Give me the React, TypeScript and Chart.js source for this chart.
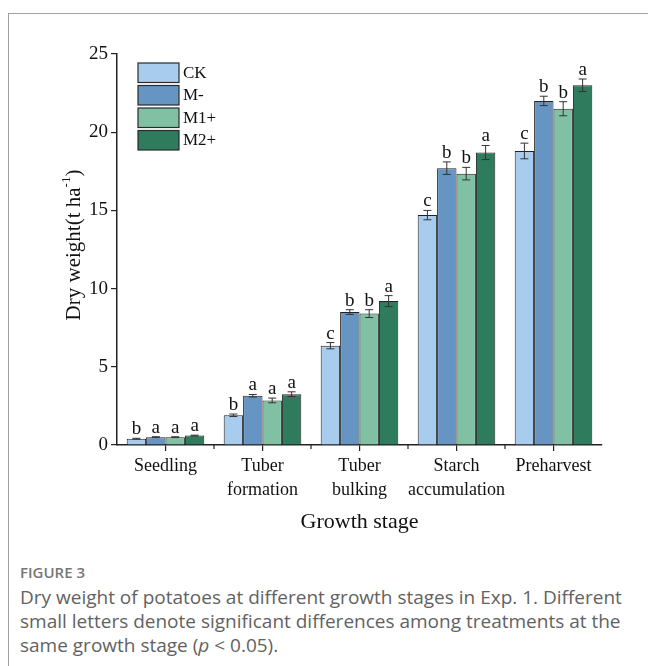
import React, { useEffect, useRef } from "react";
import { Chart, registerables } from "chart.js";

Chart.register(...registerables);

const categories: string[][] = [
  ["Seedling"],
  ["Tuber", "formation"],
  ["Tuber", "bulking"],
  ["Starch", "accumulation"],
  ["Preharvest"],
];
const seriesNames = ["CK", "M-", "M1+", "M2+"];
const ckValues = [0.4, 1.9, 6.35, 14.7, 18.8];
const mMinusValues = [0.5, 3.15, 8.5, 17.7, 22.0];
const m1Values = [0.5, 2.85, 8.4, 17.35, 21.5];
const m2Values = [0.6, 3.25, 9.2, 18.7, 23.0];
const ckErr = [0.03, 0.08, 0.2, 0.3, 0.5];
const mMinusErr = [0.03, 0.08, 0.15, 0.4, 0.3];
const m1Err = [0.03, 0.15, 0.25, 0.4, 0.45];
const m2Err = [0.03, 0.15, 0.35, 0.45, 0.4];
const ckLetters = ["b", "b", "c", "c", "c"];
const mMinusLetters = ["a", "a", "b", "b", "b"];
const m1Letters = ["a", "a", "b", "b", "b"];
const m2Letters = ["a", "a", "a", "a", "a"];
const yTicks = [0, 5, 10, 15, 20, 25];
const colors = ["#a8cced", "#6795c3", "#80c1a4", "#2f7b5d"];

const SERIF = "'Liberation Serif', 'Times New Roman', serif";

export default function App() {
  const ref = useRef<HTMLCanvasElement | null>(null);

  useEffect(() => {
    if (!ref.current) return;
    const values = [ckValues, mMinusValues, m1Values, m2Values];
    const errs = [ckErr, mMinusErr, m1Err, m2Err];
    const letters = [ckLetters, mMinusLetters, m1Letters, m2Letters];

    const extras = {
      id: "extras",
      afterDatasetsDraw(chart: any) {
        const ctx = chart.ctx;
        const y = chart.scales.y;
        const x = chart.scales.x;
        ctx.save();
        // error bars and letters
        chart.data.datasets.forEach((ds: any, di: number) => {
          const meta = chart.getDatasetMeta(di);
          meta.data.forEach((bar: any, i: number) => {
            const v = values[di][i];
            const e = errs[di][i];
            const top = y.getPixelForValue(v + e);
            const bot = y.getPixelForValue(v - e);
            const cx = bar.x;
            ctx.strokeStyle = "#333";
            ctx.lineWidth = 1;
            ctx.beginPath();
            ctx.moveTo(cx, top);
            ctx.lineTo(cx, bot);
            ctx.moveTo(cx - 4, top);
            ctx.lineTo(cx + 4, top);
            ctx.moveTo(cx - 4, bot);
            ctx.lineTo(cx + 4, bot);
            ctx.stroke();
            ctx.fillStyle = "#111";
            ctx.font = `19px ${SERIF}`;
            ctx.textAlign = "center";
            ctx.textBaseline = "alphabetic";
            ctx.fillText(letters[di][i], cx, top - 4);
          });
        });
        // minor x ticks at category boundaries
        ctx.strokeStyle = "#222";
        ctx.lineWidth = 1.2;
        const n = categories.length;
        const bottom = chart.chartArea.bottom;
        for (let k = 1; k < n; k++) {
          const px = (x.getPixelForValue(k - 1) + x.getPixelForValue(k)) / 2;
          ctx.beginPath();
          ctx.moveTo(px, bottom);
          ctx.lineTo(px, bottom + 4);
          ctx.stroke();
        }
        // legend
        const lx = 138;
        const ly = 63;
        ctx.font = `17px ${SERIF}`;
        ctx.textAlign = "left";
        ctx.textBaseline = "middle";
        seriesNames.forEach((name, i) => {
          const top = ly + i * 22.5;
          ctx.fillStyle = colors[i];
          ctx.fillRect(lx, top, 41, 19.5);
          ctx.strokeStyle = "#2a2a2a";
          ctx.lineWidth = 1.2;
          ctx.strokeRect(lx, top, 41, 19.5);
          ctx.fillStyle = "#111";
          ctx.fillText(name, lx + 45, top + 10.5);
        });
        // y title
        ctx.save();
        ctx.translate(74, 245);
        ctx.rotate(-Math.PI / 2);
        ctx.fillStyle = "#111";
        ctx.textBaseline = "middle";
        const main = "Dry weight(t ha";
        const sup = "-1";
        const end = ")";
        ctx.font = `21px ${SERIF}`;
        const w1 = ctx.measureText(main).width;
        const w3 = ctx.measureText(end).width;
        ctx.font = `13px ${SERIF}`;
        const w2 = ctx.measureText(sup).width;
        const total = w1 + w2 + w3;
        let sx = -total / 2;
        ctx.textAlign = "left";
        ctx.font = `21px ${SERIF}`;
        ctx.fillText(main, sx, 0);
        sx += w1;
        ctx.font = `13px ${SERIF}`;
        ctx.fillText(sup, sx, -7);
        sx += w2;
        ctx.font = `21px ${SERIF}`;
        ctx.fillText(end, sx, 0);
        ctx.restore();
        // x title
        ctx.font = `22px ${SERIF}`;
        ctx.textAlign = "center";
        ctx.textBaseline = "middle";
        ctx.fillStyle = "#111";
        ctx.fillText("Growth stage", (chart.chartArea.left + chart.chartArea.right) / 2, 522);
        ctx.restore();
      },
    };

    const chart = new Chart(ref.current, {
      type: "bar",
      data: {
        labels: categories as any,
        datasets: seriesNames.map((name, i) => ({
          label: name,
          data: values[i],
          backgroundColor: colors[i],
          borderColor: "#222",
          borderWidth: 1,
          categoryPercentage: 0.8,
          barPercentage: 1.0,
        })),
      },
      options: {
        animation: false,
        responsive: false,
        maintainAspectRatio: false,
        layout: { padding: { left: 0, top: 54, right: 46, bottom: 0 } },
        plugins: { legend: { display: false }, tooltip: { enabled: false } },
        scales: {
          x: {
            offset: true,
            grid: {
              display: true,
              drawOnChartArea: false,
              drawTicks: true,
              tickLength: 6,
              offset: false,
              color: "#222",
              lineWidth: 1.2,
            },
            border: { display: true, color: "#222", width: 1.5 },
            ticks: {
              color: "#111",
              font: { family: SERIF, size: 18, lineHeight: 1.3 },
              padding: 4,
              maxRotation: 0,
              autoSkip: false,
            },
            afterFit(scale: any) {
              scale.height = 550 - 445;
            },
          },
          y: {
            min: 0,
            max: 25,
            afterBuildTicks(scale: any) {
              scale.ticks = yTicks.map((v) => ({ value: v }));
            },
            grid: {
              display: true,
              drawOnChartArea: false,
              drawTicks: true,
              tickLength: 6,
              color: "#222",
              lineWidth: 1.2,
            },
            border: { display: true, color: "#222", width: 1.5 },
            ticks: {
              color: "#111",
              font: { family: SERIF, size: 19 },
              padding: 3,
            },
            afterFit(scale: any) {
              scale.width = 117;
            },
          },
        },
      },
      plugins: [extras],
    });
    return () => chart.destroy();
  }, []);

  return (
    <div style={{ position: "absolute", left: 0, top: 0, width: 648, height: 666, overflow: "hidden", background: "#fff" }}>
      <div
        style={{
          position: "absolute",
          left: 8,
          top: 13,
          width: 720,
          height: 720,
          border: "1px solid #a0a0a0",
          boxSizing: "border-box",
        }}
      />
      <canvas ref={ref} width={648} height={550} style={{ position: "absolute", left: 0, top: 0, width: 648, height: 550 }} />
      <div
        style={{
          position: "absolute",
          left: 20,
          top: 562,
          fontFamily: "'Open Sans', sans-serif",
          fontSize: 15,
          fontWeight: 600,
          lineHeight: "20px",
          color: "#777",
        }}
      >
        FIGURE 3
      </div>
      <div
        style={{
          position: "absolute",
          left: 20,
          top: 585,
          width: 612,
          fontFamily: "'Open Sans', sans-serif",
          fontSize: 19,
          lineHeight: "24px",
          color: "#626262",
        }}
      >
        Dry weight of potatoes at different growth stages in Exp. 1. Different small letters denote significant differences among treatments at the same growth stage (<i>p</i> &lt; 0.05).
      </div>
    </div>
  );
}
